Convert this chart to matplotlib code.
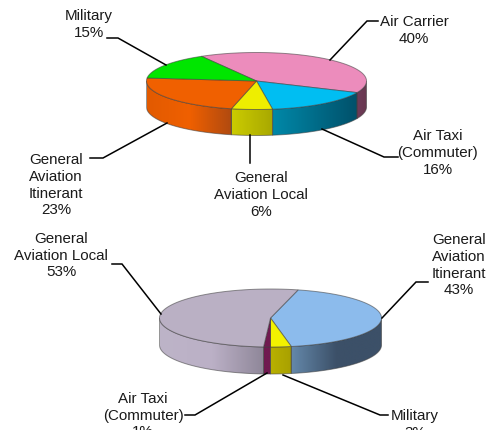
import numpy as np
import matplotlib
matplotlib.use("Agg")
import matplotlib.pyplot as plt
from matplotlib.patches import Polygon
from matplotlib.colors import LinearSegmentedColormap

plt.rcParams['font.family'] = ['Liberation Sans', 'DejaVu Sans']

# --- data ---
top_labels = ["Air Carrier", "Air Taxi\n(Commuter)", "General\nAviation Local",
              "General\nAviation\nItinerant", "Military"]
top_values = [40, 16, 6, 23, 15]
bottom_labels = ["General\nAviation\nItinerant", "Military", "Air Taxi\n(Commuter)",
                 "General\nAviation Local"]
bottom_values = [43, 3, 1, 53]

# --- styles ---
top_face = ['#EC8CBC', '#00BEF2', '#EEEE00', '#F06000', '#00E600']
top_side = [['#6E3A58', '#683850'], ['#0088A8', '#00506A'], ['#CCCC00', '#A8A800'],
            ['#E25A00', '#F06000', '#B04A10'], ['#00A000', '#00A000']]
bot_face = ['#8CBBEC', '#F2F200', '#701A50', '#BAB0C4']
bot_side = [['#6488AA', '#3C5068', '#3C5068'], ['#B8B000', '#A8A000'], ['#701A50', '#701A50'],
            ['#BDB4C8', '#BBB0C6', '#8E8698']]
top_geom = dict(cx=256.5, cy=81, rx=110, ry=28.5, depth=26, start=120)
bot_geom = dict(cx=270.5, cy=318, rx=111, ry=29, depth=27, start=75.6)

W, H = 497, 430
fig = plt.figure(figsize=(W / 100, H / 100), dpi=100)
ax = fig.add_axes([0, 0, 1, 1])
ax.set_xlim(0, W)
ax.set_ylim(H, 0)
ax.axis('off')


def pie3d(values, faces, sides, cx, cy, rx, ry, depth, start):
    total = sum(values)
    angles = start - np.concatenate([[0], np.cumsum(values)]) * 360 / total
    edge = '#40404090'
    for i in range(len(values)):
        a0, a1 = angles[i], angles[i + 1]
        t = np.radians(np.linspace(a0, a1, 200))
        s = np.sin(t) < 0
        if s.any():
            tv = t[s]
            x = cx + rx * np.cos(tv)
            y = cy - ry * np.sin(tv)
            pts = np.r_[np.c_[x, y], np.c_[x[::-1], y[::-1] + depth]]
            cmap = LinearSegmentedColormap.from_list('g', sides[i])
            poly = Polygon(pts, closed=True, fc='none', ec='none')
            ax.add_patch(poly)
            x0, x1 = x.min(), x.max()
            im = ax.imshow(np.linspace(0, 1, 128)[None, :], cmap=cmap, aspect='auto',
                           extent=[x0, x1, cy + ry + depth + 2, cy - ry - 2], zorder=2)
            im.set_clip_path(poly)
            ax.add_patch(Polygon(pts, closed=True, fc='none', ec=edge, lw=0.7, zorder=3))
    for i in range(len(values)):
        a0, a1 = angles[i], angles[i + 1]
        t = np.radians(np.linspace(a0, a1, 200))
        pts = np.r_[[[cx, cy]], np.c_[cx + rx * np.cos(t), cy - ry * np.sin(t)]]
        ax.add_patch(Polygon(pts, closed=True, fc=faces[i], ec=edge, lw=0.7, zorder=4))
    ax.set_xlim(0, W)
    ax.set_ylim(H, 0)


pie3d(top_values, top_face, top_side, **top_geom)
pie3d(bottom_values, bot_face, bot_side, **bot_geom)


def callout(text, value, x, y, line):
    ax.text(x, y, f"{text}\n{value}%", ha='center', va='top', fontsize=10.9,
            color='#1a1a1a', linespacing=1.25, zorder=6)
    xs, ys = zip(*line)
    ax.plot(xs, ys, color='black', lw=1.1, zorder=5, solid_joinstyle='miter')


callout(top_labels[4], top_values[4], 89, 9, [(107, 38), (118, 38), (166, 65)])
callout(top_labels[0], top_values[0], 414, 15, [(378, 21), (367, 21), (330, 60)])
callout(top_labels[1], top_values[1], 438, 129, [(398, 157), (384, 157), (322, 129)])
callout(top_labels[2], top_values[2], 261, 171, [(250, 135), (250, 163)])
callout(top_labels[3], top_values[3], 56, 153, [(90, 158), (103, 158), (167, 123)])
callout(bottom_labels[3], bottom_values[3], 61, 232, [(112, 264), (122, 264), (161, 314)])
callout(bottom_labels[0], bottom_values[0], 459, 233, [(428, 282), (416, 282), (382, 318)])
callout(bottom_labels[2], bottom_values[2], 143, 392, [(185, 415), (195, 415), (267, 373)])
callout(bottom_labels[1], bottom_values[1], 415, 409, [(388, 415), (380, 415), (283, 375)])

fig.savefig("out.png", dpi=100, facecolor='white')
